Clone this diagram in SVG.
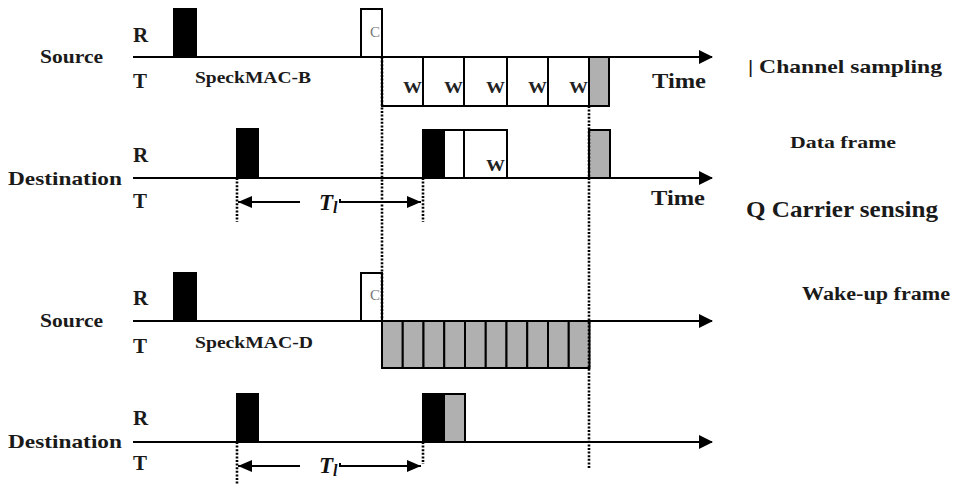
<svg xmlns="http://www.w3.org/2000/svg" width="960" height="485" viewBox="0 0 960 485">
<style>
.lbl{font-family:"Liberation Serif","DejaVu Serif",serif;font-weight:bold;fill:#1a1a1a}
.rt{font-size:21px}
.nm{font-size:19px}
.w{font-family:"Liberation Serif",serif;font-weight:bold;font-size:16px;fill:#222}
.c{font-family:"Liberation Serif",serif;font-size:15px;fill:#777}
.tl{font-family:"Liberation Serif",serif;font-style:italic;font-weight:bold;fill:#111}
.axis{stroke:#000;stroke-width:2.2;fill:none}
.blk{fill:#000;stroke:#000;stroke-width:2}
.wht{fill:#fff;stroke:#000;stroke-width:2}
.gry{fill:#b0b0b0;stroke:#000;stroke-width:2}
.dot{stroke:#000;stroke-width:2.6;stroke-dasharray:2 1.6;fill:none}
.arr{stroke:#000;stroke-width:2;fill:none}
</style>
<defs>
<marker id="ah" viewBox="0 0 14 14" refX="13" refY="7" markerWidth="14" markerHeight="14" markerUnits="userSpaceOnUse" orient="auto"><path d="M0,0 L14,7 L0,14 z" fill="#000"/></marker>
<marker id="as" viewBox="0 0 14 12" refX="14" refY="6" markerWidth="14" markerHeight="12" markerUnits="userSpaceOnUse" orient="auto"><path d="M0,0 L14,6 L0,12 z" fill="#000"/></marker>
</defs>
<rect width="960" height="485" fill="#fff"/>

<!-- Panel 1: SpeckMAC-B -->
<g id="p1-source">
<text class="lbl nm" x="40" y="63" textLength="63" lengthAdjust="spacingAndGlyphs">Source</text>
<text class="lbl rt" x="133" y="42">R</text>
<text class="lbl rt" x="133" y="88">T</text>
<text class="lbl" x="195" y="83" font-size="16" textLength="116" lengthAdjust="spacingAndGlyphs">SpeckMAC-B</text>
<text class="lbl" x="652" y="88" font-size="22" textLength="54" lengthAdjust="spacingAndGlyphs">Time</text>
</g>
<g id="p1-src-sample"><rect class="blk" x="174" y="9" width="22" height="48"/></g>
<g id="p1-src-cs"><rect class="wht" x="361" y="9" width="21" height="48"/><text class="c" x="370" y="37">C</text></g>
<g id="p1-src-wake">
<rect class="wht" x="382" y="57" width="41" height="49"/>
<rect class="wht" x="423" y="57" width="41" height="49"/>
<rect class="wht" x="464" y="57" width="43" height="49"/>
<rect class="wht" x="507" y="57" width="41" height="49"/>
<rect class="wht" x="548" y="57" width="41" height="49"/>
<text class="w" x="403" y="93" textLength="19" lengthAdjust="spacingAndGlyphs">W</text>
<text class="w" x="444" y="93" textLength="19" lengthAdjust="spacingAndGlyphs">W</text>
<text class="w" x="486" y="93" textLength="19" lengthAdjust="spacingAndGlyphs">W</text>
<text class="w" x="528" y="93" textLength="19" lengthAdjust="spacingAndGlyphs">W</text>
<text class="w" x="569" y="93" textLength="19" lengthAdjust="spacingAndGlyphs">W</text>
</g>
<g id="p1-src-data"><rect class="gry" x="589" y="57" width="20" height="49"/></g>

<g id="p1-destination">
<text class="lbl nm" x="8" y="185" textLength="114" lengthAdjust="spacingAndGlyphs">Destination</text>
<text class="lbl rt" x="133" y="162">R</text>
<text class="lbl rt" x="133" y="208">T</text>
<text class="lbl" x="651" y="205" font-size="22" textLength="54" lengthAdjust="spacingAndGlyphs">Time</text>
</g>
<g id="p1-dst-sample"><rect class="blk" x="237" y="129" width="21" height="49"/></g>
<g id="p1-dst-rx">
<rect class="blk" x="423" y="130" width="21" height="48"/>
<rect class="wht" x="444" y="130" width="20" height="48"/>
<rect class="wht" x="464" y="130" width="43" height="48"/>
<text class="w" x="486" y="171" textLength="19" lengthAdjust="spacingAndGlyphs">W</text>
</g>
<g id="p1-dst-data"><rect class="gry" x="589" y="130" width="21" height="48"/></g>
<g id="p1-tl">
<text class="tl" x="319" y="210" font-size="23">T<tspan font-size="16" dy="3">l</tspan></text>
</g>

<!-- Panel 2: SpeckMAC-D -->
<g id="p2-source">
<text class="lbl nm" x="40" y="327" textLength="63" lengthAdjust="spacingAndGlyphs">Source</text>
<text class="lbl rt" x="133" y="305">R</text>
<text class="lbl rt" x="133" y="353">T</text>
<text class="lbl" x="195" y="348" font-size="16" textLength="118" lengthAdjust="spacingAndGlyphs">SpeckMAC-D</text>
</g>
<g id="p2-src-sample"><rect class="blk" x="174" y="273" width="22" height="48"/></g>
<g id="p2-src-cs"><rect class="wht" x="361" y="273" width="21" height="48"/><text class="c" x="370" y="300">C</text></g>
<g id="p2-src-data">
<rect class="gry" x="382" y="321" width="20.75" height="47"/>
<rect class="gry" x="402.75" y="321" width="20.75" height="47"/>
<rect class="gry" x="423.5" y="321" width="20.75" height="47"/>
<rect class="gry" x="444.25" y="321" width="20.75" height="47"/>
<rect class="gry" x="465" y="321" width="20.75" height="47"/>
<rect class="gry" x="485.75" y="321" width="20.75" height="47"/>
<rect class="gry" x="506.5" y="321" width="20.75" height="47"/>
<rect class="gry" x="527.25" y="321" width="20.75" height="47"/>
<rect class="gry" x="548" y="321" width="20.75" height="47"/>
<rect class="gry" x="568.75" y="321" width="20.75" height="47"/>
</g>

<g id="p2-destination">
<text class="lbl nm" x="8" y="448" textLength="114" lengthAdjust="spacingAndGlyphs">Destination</text>
<text class="lbl rt" x="133" y="425">R</text>
<text class="lbl rt" x="133" y="470">T</text>
</g>
<g id="p2-dst-sample"><rect class="blk" x="237" y="394" width="21" height="48"/></g>
<g id="p2-dst-rx">
<rect class="blk" x="423" y="394" width="21" height="48"/>
<rect class="gry" x="444" y="394" width="21" height="48"/>
</g>
<g id="p2-tl">
<text class="tl" x="319" y="473" font-size="23">T<tspan font-size="16" dy="3">l</tspan></text>
</g>

<!-- Legend -->
<g id="legend">
<text class="lbl" x="748" y="73" font-size="19" textLength="194" lengthAdjust="spacingAndGlyphs">| Channel sampling</text>
<text class="lbl" x="790" y="148" font-size="17" textLength="106" lengthAdjust="spacingAndGlyphs">Data frame</text>
<text class="lbl" x="746" y="217" font-size="23" textLength="192" lengthAdjust="spacingAndGlyphs">Q Carrier sensing</text>
<text class="lbl" x="802" y="300" font-size="18" textLength="148" lengthAdjust="spacingAndGlyphs">Wake-up frame</text>
</g>

<!-- Connectors -->
<g id="connectors">
<line class="axis" x1="133" y1="57" x2="712" y2="57" marker-end="url(#ah)"/>
<line class="axis" x1="133" y1="178" x2="712" y2="178" marker-end="url(#ah)"/>
<line class="axis" x1="133" y1="321" x2="712" y2="321" marker-end="url(#ah)"/>
<line class="axis" x1="133" y1="442" x2="712" y2="442" marker-end="url(#ah)"/>
<line class="dot" x1="382" y1="57" x2="382" y2="321"/>
<line class="dot" x1="589" y1="106" x2="589" y2="469"/>
<line class="dot" x1="237" y1="178" x2="237" y2="222"/>
<line class="dot" x1="423" y1="178" x2="423" y2="222"/>
<line class="dot" x1="237" y1="442" x2="237" y2="485"/>
<line class="dot" x1="423" y1="442" x2="423" y2="464"/>
<line class="arr" x1="300" y1="202" x2="238" y2="202" marker-end="url(#as)"/>
<path class="arr" d="M340,199 L340,202 L421,202" marker-end="url(#as)"/>
<line class="arr" x1="300" y1="466" x2="238" y2="466" marker-end="url(#as)"/>
<path class="arr" d="M340,463 L340,466 L421,466" marker-end="url(#as)"/>
</g>
</svg>
